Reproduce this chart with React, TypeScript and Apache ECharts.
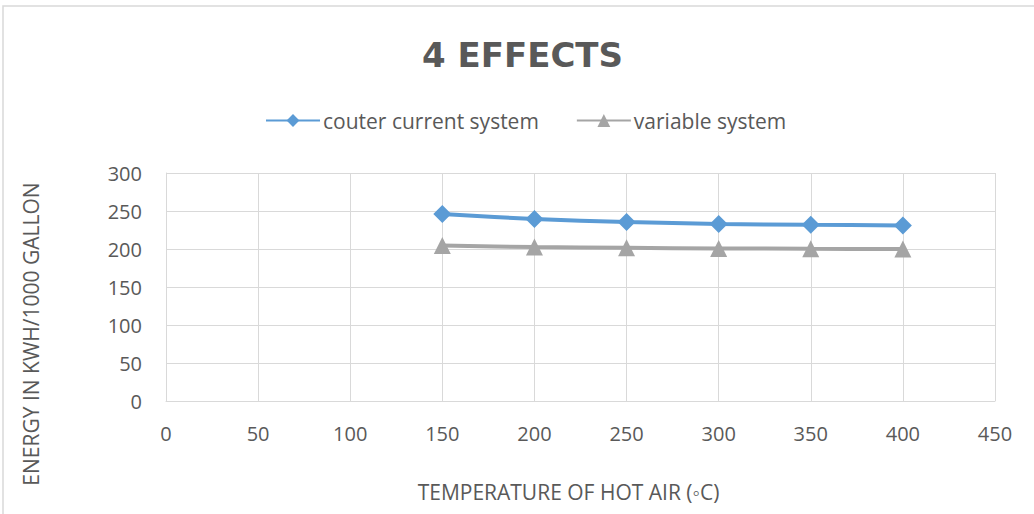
import React, { useEffect, useRef } from "react";
import * as echarts from "echarts";

const temperatures = [150, 200, 250, 300, 350, 400];
const counterCurrent = [246, 239.5, 235.5, 233, 231.8, 231];
const variableSystem = [204.5, 202.5, 201.5, 200.8, 200.3, 200];
const seriesNames = ["couter current system", "variable system"];

const FONT = "'Open Sans', 'Liberation Sans', sans-serif";
const TXT = "#595959";

export default function App() {
  const ref = useRef<HTMLDivElement>(null);
  useEffect(() => {
    document.body.style.margin = "0";
    const chart = echarts.init(ref.current!, null, { renderer: "svg" });
    chart.setOption({
      animation: false,
      backgroundColor: "#ffffff",
      title: {
        text: "4 EFFECTS",
        left: 417,
        top: 33,
        textStyle: { fontFamily: "'DejaVu Sans', sans-serif", fontSize: 34, fontWeight: "bold", color: TXT },
      },
      legend: {
        top: 105,
        left: 260,
        itemGap: 37,
        itemWidth: 54,
        itemHeight: 16,
        textStyle: { fontFamily: FONT, fontSize: 21, color: TXT, padding: [0, 0, 0, -2] },
        data: seriesNames,
      },
      graphic: [
        {
          type: "rect",
          shape: { x: 3, y: 6, width: 1040, height: 520 },
          style: { fill: "none", stroke: "#d9d9d9", lineWidth: 1.5 },
        },
        {
          type: "text",
          x: 31,
          y: 334,
          rotation: Math.PI / 2,
          style: {
            text: "ENERGY IN KWH/1000 GALLON",
            fontFamily: FONT,
            fontSize: 21,
            fill: TXT,
            align: "center",
            verticalAlign: "middle",
          },
        },
      ],
      grid: { left: 166, right: 39, top: 173, bottom: 113 },
      xAxis: {
        type: "value",
        min: 0,
        max: 450,
        interval: 50,
        name: "TEMPERATURE OF HOT AIR (◦C)",
        nameLocation: "middle",
        nameGap: 80,
        nameTextStyle: { fontFamily: FONT, fontSize: 21, color: TXT, padding: [0, 24, 0, 0] },
        axisLine: { lineStyle: { color: "#d9d9d9", width: 1 } },
        axisTick: { show: false },
        axisLabel: { fontFamily: FONT, fontSize: 20, color: TXT, margin: 22 },
        splitLine: { show: true, lineStyle: { color: "#d9d9d9", width: 1 } },
      },
      yAxis: {
        type: "value",
        min: 0,
        max: 300,
        interval: 50,
        axisLine: { show: true, lineStyle: { color: "#d9d9d9", width: 1 } },
        axisTick: { show: false },
        axisLabel: { fontFamily: FONT, fontSize: 20, color: TXT, margin: 24 },
        splitLine: { show: true, lineStyle: { color: "#d9d9d9", width: 1 } },
      },
      series: [
        {
          name: seriesNames[0],
          type: "line",
          smooth: 0.3,
          data: temperatures.map((t, i) => [t, counterCurrent[i]]),
          symbol: "diamond",
          symbolSize: 18,
          lineStyle: { color: "#5b9bd5", width: 4 },
          itemStyle: { color: "#5b9bd5" },
        },
        {
          name: seriesNames[1],
          type: "line",
          smooth: 0.3,
          data: temperatures.map((t, i) => [t, variableSystem[i]]),
          symbol: "triangle",
          symbolSize: 17,
          lineStyle: { color: "#a5a5a5", width: 4 },
          itemStyle: { color: "#a5a5a5" },
        },
      ],
    });
    return () => chart.dispose();
  }, []);
  return <div ref={ref} style={{ position: "absolute", left: 0, top: 0, width: 1034, height: 514 }} />;
}
